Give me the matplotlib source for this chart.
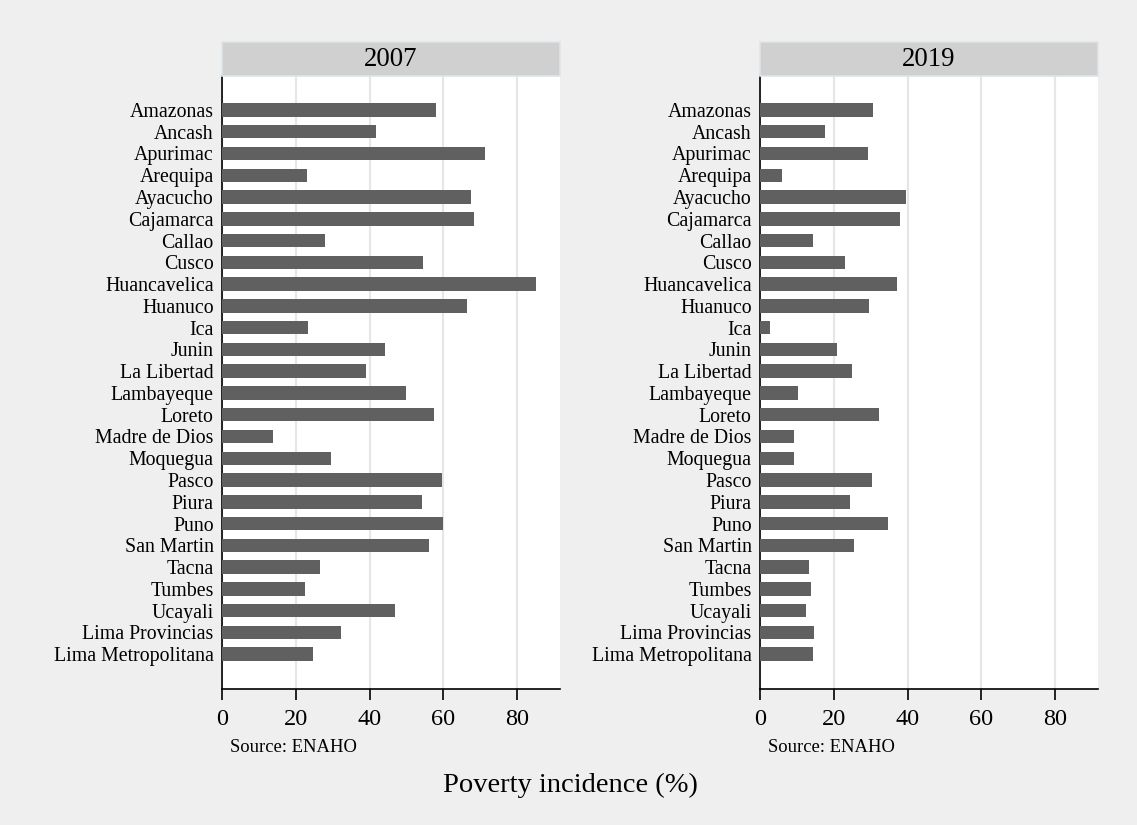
import matplotlib
matplotlib.use("Agg")
import matplotlib.pyplot as plt
from matplotlib.patches import Rectangle

regions = ["Amazonas", "Ancash", "Apurimac", "Arequipa", "Ayacucho", "Cajamarca",
           "Callao", "Cusco", "Huancavelica", "Huanuco", "Ica", "Junin", "La Libertad",
           "Lambayeque", "Loreto", "Madre de Dios", "Moquegua", "Pasco", "Piura", "Puno",
           "San Martin", "Tacna", "Tumbes", "Ucayali", "Lima Provincias", "Lima Metropolitana"]
pov_2007 = [58.1, 41.8, 71.4, 22.9, 67.6, 68.4, 28.0, 54.4, 85.0, 66.5, 23.3, 44.3, 39.1,
            49.9, 57.5, 13.8, 29.6, 59.7, 54.3, 60.0, 56.2, 26.6, 22.5, 47.0, 32.3, 24.7]
pov_2019 = [30.6, 17.6, 29.3, 6.0, 39.6, 37.9, 14.4, 23.0, 37.2, 29.5, 2.7, 20.9, 24.9,
            10.3, 32.3, 9.2, 9.2, 30.4, 24.4, 34.7, 25.5, 13.3, 13.8, 12.4, 14.6, 14.4]
years = ["2007", "2019"]
xticks = [0, 20, 40, 60, 80]

plt.rcParams['font.family'] = ['Liberation Serif', 'DejaVu Serif']

bg = "#efefef"
fig = plt.figure(figsize=(11.37, 8.25), dpi=100, facecolor=bg)

panels = [(222, pov_2007, years[0]), (760, pov_2019, years[1])]
W, H = 1137, 825
for left_px, vals, yr in panels:
    ax = fig.add_axes([left_px / W, 1 - 689 / H, 338 / W, (689 - 76) / H])
    ax.set_facecolor("white")
    pos = list(range(len(regions)))
    ax.barh(pos, vals, height=0.62, color="#606060", zorder=3)
    ax.set_xlim(0, 91.6)
    ax.set_ylim(len(regions) - 1 + 1.6, -1.56)
    ax.set_yticks(pos)
    ax.set_yticklabels(regions, fontsize=14.3)
    ax.tick_params(axis='y', length=0, pad=6)
    ax.set_xticks(xticks)
    ax.set_xticklabels([str(t) for t in xticks], fontsize=17.5)
    ax.tick_params(axis='x', length=8, width=1.2, direction='out', pad=6.5)
    ax.grid(axis='x', color="#e6e6e6", linewidth=1.5, zorder=0)
    for s in ["top", "right"]:
        ax.spines[s].set_visible(False)
    for s in ["left", "bottom"]:
        ax.spines[s].set_linewidth(1.2)
        ax.spines[s].set_color("black")
    # strip header
    fig.patches.append(Rectangle((left_px / W, 1 - 76 / H), 338 / W, 34 / H,
                                 transform=fig.transFigure, facecolor="#d0d0d0",
                                 edgecolor="#dde5ea", linewidth=1.2))
    fig.text((left_px + 169) / W, 1 - 59 / H, yr, ha="center", va="center", fontsize=19.3)
    fig.text((left_px + 8) / W, 1 - 748 / H, "Source: ENAHO", ha="left", va="center",
             fontsize=13.4)

fig.text(570 / W, 1 - 785 / H, "Poverty incidence (%)", ha="center", va="center", fontsize=20.5)

fig.savefig("out.png", dpi=100, facecolor=bg)
